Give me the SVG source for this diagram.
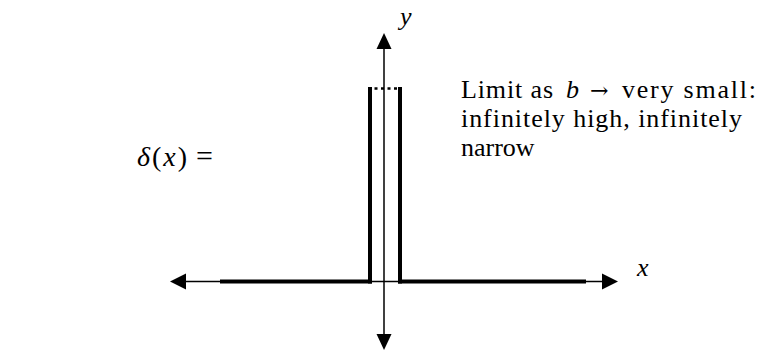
<svg xmlns="http://www.w3.org/2000/svg" width="761" height="351" viewBox="0 0 761 351">
<style>
.t{font-family:'Liberation Serif',serif;fill:#000}
.m{font-family:'Liberation Serif','DejaVu Serif',serif;font-style:italic;fill:#000}
.thin{stroke:#000;stroke-width:1.5;fill:none}
.thick{stroke:#000;stroke-width:4;fill:none}
</style>
<rect width="761" height="351" fill="#fff"/>
<g id="axes">
<line class="thin" x1="184" y1="281.5" x2="604" y2="281.5"/>
<polygon points="170,281.5 186,273.5 186,289.5" fill="#000"/>
<polygon points="618,281.5 602,273.5 602,289.5" fill="#000"/>
<line class="thin" x1="384" y1="47" x2="384" y2="336"/>
<polygon points="384,33 376.5,49 391.5,49" fill="#000"/>
<polygon points="384,350 376.5,334 391.5,334" fill="#000"/>
</g>
<g id="pulse">
<line class="thick" x1="220" y1="281.5" x2="372" y2="281.5"/>
<line class="thick" x1="398" y1="281.5" x2="586" y2="281.5"/>
<line class="thick" x1="370" y1="87" x2="370" y2="283.5"/>
<line class="thick" x1="400" y1="87" x2="400" y2="283.5"/>
<line stroke="#000" stroke-width="2.5" stroke-dasharray="3 3.5" x1="368" y1="88.5" x2="402" y2="88.5"/>
</g>
<g id="labels">
<text class="m" x="400" y="25" font-size="26">y</text>
<text class="m" x="637" y="276" font-size="26">x</text>
<text class="t" x="137" y="166" font-size="28" textLength="50" lengthAdjust="spacing"><tspan font-style="italic">δ</tspan>(<tspan font-style="italic">x</tspan>)</text>
<text class="t" x="196" y="166" font-size="30">=</text>
<text class="t" y="98" font-size="26"><tspan x="461" textLength="92" lengthAdjust="spacing">Limit as</tspan><tspan x="566" font-style="italic">b</tspan><tspan x="590" font-family="'DejaVu Serif',serif" font-size="22">→</tspan><tspan x="622" textLength="134" lengthAdjust="spacing">very small:</tspan></text>
<text class="t" x="461" y="127" font-size="26" textLength="281" lengthAdjust="spacing">infinitely high, infinitely</text>
<text class="t" x="461" y="156" font-size="26">narrow</text>
</g>
</svg>
